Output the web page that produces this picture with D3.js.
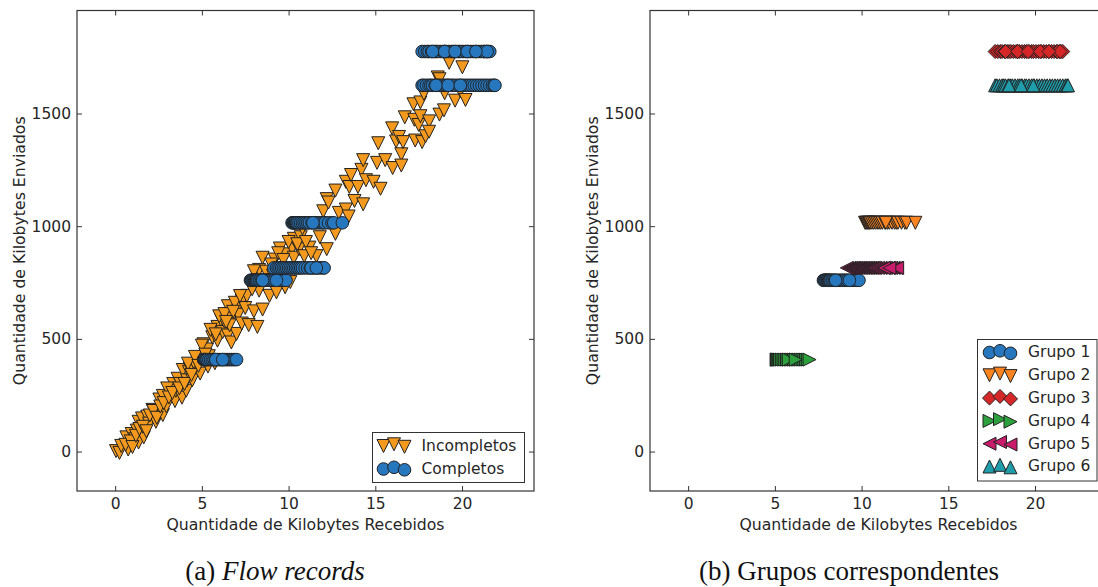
<!DOCTYPE html>
<html>
<head>
<meta charset="utf-8">
<script src="https://cdn.jsdelivr.net/npm/d3@7"></script>
<style>
    body { margin: 0; background: #fff; }
    text { font-family: "DejaVu Sans", sans-serif; fill: #262626; }
    .caption { font-family: "Liberation Serif", "Times New Roman", serif; fill: #111; }
</style>
</head>
<body>
<svg id="chart" width="1098" height="587"></svg>
<script>
"use strict";

// Incompletos (left panel, orange down triangles)
const incX = [0.05, 0.25, 0.35, 0.65, 0.75, 0.95, 1.15, 1.25, 1.35, 1.35, 1.55, 1.65, 1.85, 1.95, 2.15,
    2.35, 2.55, 2.55, 2.75, 2.75, 2.95, 3.05, 3.25, 3.35, 3.45, 3.5, 3.6, 3.75, 3.85, 3.9,
    4.1, 4.15, 4.25, 4.3, 4.45, 4.6, 4.8, 4.9, 5.1, 5.3, 5.35, 5.4, 5.6, 5.75, 5.9,
    5.9, 6.1, 6.2, 6.3, 6.5, 6.5, 6.7, 6.7, 7.0, 7.1, 7.1, 7.3, 7.3, 7.5, 7.6,
    7.7, 8.0, 8.2, 8.3, 8.3, 8.5, 8.7, 8.9, 9.2, 9.3, 9.5, 9.8, 9.8, 10.1, 10.2,
    10.3, 10.3, 10.6, 10.7, 10.9, 11.2, 11.6, 11.8, 12.0, 12.2, 12.2, 12.3, 12.7, 12.7, 12.9,
    13.3, 13.3, 13.46, 13.5, 13.6, 13.8, 14.0, 14.2, 14.3, 14.3, 14.46, 14.9, 15.1, 15.17, 15.3,
    15.57, 15.97, 16.0, 16.2, 16.37, 16.5, 16.5, 16.6, 16.7, 17.2, 17.25, 17.3, 17.5, 17.6, 17.6,
    17.7, 17.8, 17.9, 18.1, 18.1, 18.6, 18.7, 18.7, 18.96, 19.0, 19.26, 19.6, 19.9, 20.02, 20.2,
    0.6, 0.9, 1.0, 1.2, 1.4, 1.6, 1.8, 2.0, 2.2, 2.4, 2.6, 2.8, 3.0, 3.1, 3.3,
    3.7, 4.0, 4.2, 4.4, 4.6, 4.8, 5.0, 5.2, 5.5, 5.8, 6.0, 6.3, 6.6, 6.9, 7.2,
    8.0, 8.5, 9.0, 9.4, 9.7, 10.0, 10.5, 11.0, 11.3, 10.8, 9.1, 8.8, 7.9, 6.8, 6.4];
const incY = [2, -6, 25, 63, 9, 78, 55, 93, 132, 40, 147, 63, 155, 124, 185,
    132, 231, 170, 247, 162, 201, 277, 254, 300, 224, 270, 323, 300, 239, 362,
    270, 316, 354, 369, 316, 385, 408, 346, 476, 453, 377, 423, 507, 392, 553,
    492, 584, 530, 576, 645, 515, 591, 484, 522, 645, 607, 668, 568, 637, 691,
    561, 622, 553, 714, 806, 630, 798, 691, 852, 706, 901, 875, 729, 752, 901,
    860, 944, 898, 951, 867, 905, 867, 951, 1066, 1120, 898, 1105, 1158, 966, 1059,
    1197, 1074, 1043, 1174, 1227, 1112, 1174, 1250, 1293, 1097, 1204, 1197, 1281, 1368, 1166,
    1293, 1434, 1258, 1376, 1396, 1319, 1269, 1373, 1483, 1541, 1472, 1380, 1449, 1549, 1488,
    1373, 1587, 1399, 1465, 1419, 1660, 1652, 1495, 1514, 1590, 1725, 1557, 1600, 1705, 1560,
    30, 45, 20, 70, 100, 110, 90, 160, 180, 150, 200, 215, 280, 240, 260,
    280, 300, 390, 340, 420, 380, 470, 430, 540, 520, 600, 610, 560, 660, 690,
    800, 860, 830, 880, 850, 930, 920, 930, 880, 990, 780, 760, 720, 620, 575];

// Grupos (right panel), also the "Completos" points of the left panel
const grupoNames = ["Grupo 1", "Grupo 2", "Grupo 3", "Grupo 4", "Grupo 5", "Grupo 6"];
const grupoY = [760, 1015, 1775, 408, 815, 1625];
const grupo1X = [7.8, 7.85, 7.9, 7.95, 8.0, 8.05, 8.1, 8.15, 8.2, 8.3, 8.35, 8.45, 8.55, 8.7, 8.8, 8.9, 9.0, 9.1,
    9.2, 9.4, 9.55, 9.7, 9.85, 8.5, 9.3];
const grupo2X = [10.2, 10.25, 10.3, 10.35, 10.4, 10.45, 10.5, 10.6, 10.7, 10.8, 10.9, 11.0, 11.1, 11.2, 11.35, 11.5,
    11.6, 11.75, 11.9, 12.0, 12.1, 12.3, 12.5, 12.6, 13.1, 11.4];
const grupo3X = [17.7, 17.85, 18.0, 18.1, 18.25, 18.4, 18.5, 18.6, 18.75, 18.9, 19.0, 19.1, 19.25, 19.4,
    19.5, 19.65, 19.8, 19.9, 20.05, 20.2, 20.35, 20.5, 20.65, 20.8, 20.95, 21.1, 21.25, 21.4, 21.5, 21.6,
    21.3, 21.45, 18.3, 19.0, 19.6, 20.3, 20.8];
const grupo4X = [5.1, 5.12, 5.15, 5.2, 5.25, 5.3, 5.4, 5.5, 5.6, 5.7, 5.8, 5.9, 6.0, 6.1, 6.2, 6.3,
    6.4, 6.5, 6.6, 6.7, 6.8, 6.9, 7.0, 5.8, 6.2];
const grupo5X = [9.15, 9.3, 9.4, 9.5, 9.6, 9.7, 9.8, 9.9, 10.0, 10.1, 10.2, 10.3, 10.4, 10.5, 10.6,
    10.7, 10.8, 10.95, 11.1, 11.25, 11.4, 11.55, 11.7, 11.85, 12.0, 12.05, 11.3, 11.6];
const grupo6X = [17.7, 17.8, 17.95, 18.1, 18.2, 18.3, 18.45, 18.6, 18.7, 18.85, 19.0, 19.1, 19.25, 19.4,
    19.5, 19.65, 19.8, 19.95, 20.1, 20.25, 20.4, 20.55, 20.7, 20.85, 21.0, 21.15, 21.3, 21.45, 21.6,
    21.75, 21.85, 21.9, 18.5, 19.2, 19.9];
const grupoX = [grupo1X, grupo2X, grupo3X, grupo4X, grupo5X, grupo6X];

const xTicks = [0, 5, 10, 15, 20];
const yTicks = [0, 500, 1000, 1500];
const xDomain = [-2.2, 24.15];
const yDomain = [-175, 1957];

const GRUPO_SHAPES = ["circle", "down", "diamond", "right", "left", "up"];
const GRUPO_COLORS = ["#2777bf", "#fb8420", "#d62728", "#2ca03c", "#c71c6a", "#1f9dab"];
const INC_COLOR = "#f39a1e";
const COMP_COLOR = "#2777bf";
const EDGE = "#222";
const FONT_SIZE = 15.5;

const plotTop = 10.5;
const plotBottom = 491;
const plotW = 457;

const markerPath = (shape, r) => {
    switch (shape) {
    case "circle": return `M${r},0A${r},${r} 0 1,1 ${-r},0A${r},${r} 0 1,1 ${r},0Z`;
    case "down": return `M0,${r}L${-r},${-r}L${r},${-r}Z`;
    case "up": return `M0,${-r}L${-r},${r}L${r},${r}Z`;
    case "right": return `M${r},0L${-r},${-r}L${-r},${r}Z`;
    case "left": return `M${-r},0L${r},${-r}L${r},${r}Z`;
    default: return `M0,${-r}L${r},0L0,${r}L${-r},0Z`;
    }
};
const markerSize = (shape) => (shape === "circle" ? 6.3 : shape === "diamond" ? 7 : 6.5);

const svg = d3.select("#chart");
svg.append("rect").attr("width", 1098).attr("height", 587).attr("fill", "#fff");

const drawPoints = (g, x, y, xs, ys, shape, color) => {
    g.selectAll(null)
        .data(xs.map((v, i) => ({ x: v, y: Array.isArray(ys) ? ys[i] : ys })))
        .enter().append("path")
        .attr("d", markerPath(shape, markerSize(shape)))
        .attr("transform", (d) => `translate(${x(d.x)},${y(d.y)})`)
        .attr("fill", color)
        .attr("stroke", EDGE)
        .attr("stroke-width", 1);
};

const drawPanel = (left) => {
    const g = svg.append("g");
    const x = d3.scaleLinear().domain(xDomain).range([left, left + plotW]);
    const y = d3.scaleLinear().domain(yDomain).range([plotBottom, plotTop]);

    const styleAxis = (a) => {
        a.select(".domain").remove();
        a.selectAll(".tick line").attr("stroke", "#333").attr("stroke-width", 1);
        a.selectAll(".tick text").attr("font-size", FONT_SIZE).attr("font-family", "DejaVu Sans").attr("fill", "#262626");
    };
    g.append("g").attr("transform", `translate(0,${plotBottom})`)
        .call(d3.axisBottom(x).tickValues(xTicks).tickSize(-5).tickPadding(7).tickFormat(d3.format("d")))
        .call(styleAxis);
    g.append("g").attr("transform", `translate(0,${plotTop})`)
        .call(d3.axisTop(x).tickValues(xTicks).tickSize(-5).tickFormat("")).call(styleAxis);
    g.append("g").attr("transform", `translate(${left},0)`)
        .call(d3.axisLeft(y).tickValues(yTicks).tickSize(-5).tickPadding(6).tickFormat(d3.format("d")))
        .call(styleAxis);
    g.append("g").attr("transform", `translate(${left + plotW},0)`)
        .call(d3.axisRight(y).tickValues(yTicks).tickSize(-5).tickFormat("")).call(styleAxis);

    g.append("rect")
        .attr("x", left).attr("y", plotTop)
        .attr("width", plotW).attr("height", plotBottom - plotTop)
        .attr("fill", "none").attr("stroke", "#333").attr("stroke-width", 1.2);

    g.append("text")
        .attr("x", left + plotW / 2).attr("y", 529.5)
        .attr("text-anchor", "middle").attr("font-size", FONT_SIZE + 0.2)
        .text("Quantidade de Kilobytes Recebidos");
    g.append("text")
        .attr("transform", `translate(${left - 58},${(plotTop + plotBottom) / 2}) rotate(-90)`)
        .attr("text-anchor", "middle").attr("dy", "0.35em").attr("font-size", FONT_SIZE + 0.2)
        .text("Quantidade de Kilobytes Enviados");
    return { g, x, y };
};

const drawLegend = (x0, y0, w, h, rows, markerXs, textX) => {
    const lg = svg.append("g");
    lg.append("rect").attr("x", x0).attr("y", y0).attr("width", w).attr("height", h)
        .attr("fill", "#fff").attr("stroke", "#333").attr("stroke-width", 1);
    const offs = [0.5, -1.2, 1.3];
    rows.forEach((row) => {
        markerXs.forEach((mx, i) => {
            lg.append("path")
                .attr("d", markerPath(row.shape, markerSize(row.shape)))
                .attr("transform", `translate(${mx},${row.cy + offs[i]})`)
                .attr("fill", row.color).attr("stroke", EDGE).attr("stroke-width", 1);
        });
        lg.append("text").attr("x", textX).attr("y", row.cy).attr("dy", "0.35em")
            .attr("font-size", FONT_SIZE).text(row.label);
    });
};

// (a) Flow records
const pa = drawPanel(77);
drawPoints(pa.g, pa.x, pa.y, incX, incY, "down", INC_COLOR);
grupoX.forEach((xs, i) => drawPoints(pa.g, pa.x, pa.y, xs, grupoY[i], "circle", COMP_COLOR));
drawLegend(372.5, 432.5, 152, 50, [
    { label: "Incompletos", shape: "down", color: INC_COLOR, cy: 445.5 },
    { label: "Completos", shape: "circle", color: COMP_COLOR, cy: 468.5 },
], [383.5, 394, 404.5], 421.5);

// (b) Grupos correspondentes
const pb = drawPanel(650);
grupoX.forEach((xs, i) => drawPoints(pb.g, pb.x, pb.y, xs, grupoY[i], GRUPO_SHAPES[i], GRUPO_COLORS[i]));
drawLegend(977.5, 339.5, 119.5, 141.5, grupoNames.map((name, i) => ({
    label: name, shape: GRUPO_SHAPES[i], color: GRUPO_COLORS[i], cy: 352 + i * 22.8,
})), [989.5, 1000, 1010.5], 1028);

// captions
const capA = svg.append("text").attr("class", "caption")
    .attr("x", 275).attr("y", 580).attr("text-anchor", "middle").attr("font-size", 27);
capA.append("tspan").text("(a) ");
capA.append("tspan").attr("font-style", "italic").text("Flow records");
svg.append("text").attr("class", "caption")
    .attr("x", 849).attr("y", 580).attr("text-anchor", "middle").attr("font-size", 27)
    .text("(b) Grupos correspondentes");
</script>
</body>
</html>
